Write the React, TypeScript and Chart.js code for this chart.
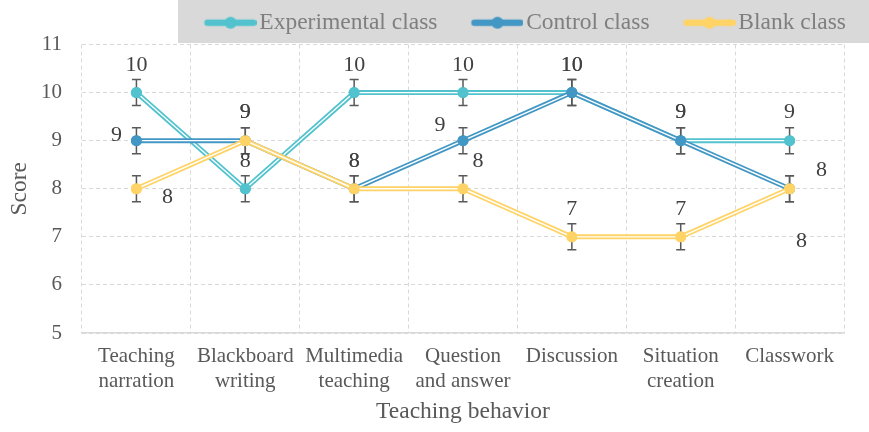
import React, { useEffect, useRef } from "react";
import { Chart, registerables } from "chart.js";

Chart.register(...registerables);

// ---------- data ----------
const categories: string[][] = [
  ["Teaching", "narration"],
  ["Blackboard", "writing"],
  ["Multimedia", "teaching"],
  ["Question", "and answer"],
  ["Discussion"],
  ["Situation", "creation"],
  ["Classwork"],
];
const seriesNames = ["Experimental class", "Control class", "Blank class"];
const experimental = [10, 8, 10, 10, 10, 9, 9];
const control = [9, 9, 8, 9, 10, 9, 8];
const blank = [8, 9, 8, 8, 7, 7, 8];
const experimentalErr = [0.27, 0.27, 0.27, 0.27, 0.27, 0.27, 0.27];
const controlErr = [0.27, 0.27, 0.27, 0.27, 0.27, 0.27, 0.27];
const blankErr = [0.27, 0.27, 0.27, 0.27, 0.27, 0.27, 0.27];
const yMin = 5;
const yMax = 11;
const yStep = 1;

// ---------- styling ----------
const FONT = "'Liberation Serif', 'Times New Roman', serif";
const colors = ["#52C3CE", "#4397C4", "#FFD366"];
// label offsets (px) relative to each point, per series
const labelOffsets: [number, number][][] = [
  [[0, -27], [0, -28], [0, -27], [0, -27], [0, -27], [0, -28], [0, -28]],
  [[-20, -5], [0, -28], [0, -28], [-23, -15], [0, -27], [0, -28], [32, -19]],
  [[31, 8], [0, -28], [0, -28], [15, -28], [0, -28], [0, -28], [12, 52]],
];
// drawing order: later series on top (lower order value = drawn last)
const drawOrder = [3, 2, 1];

function makeLegendMarker(color: string): HTMLCanvasElement {
  const c = document.createElement("canvas");
  c.width = 84;
  c.height = 14;
  const ctx = c.getContext("2d")!;
  ctx.strokeStyle = color;
  ctx.lineWidth = 6.5;
  ctx.lineCap = "round";
  ctx.beginPath();
  ctx.moveTo(35, 7);
  ctx.lineTo(81, 7);
  ctx.stroke();
  ctx.fillStyle = color;
  ctx.beginPath();
  ctx.arc(58, 7, 6, 0, Math.PI * 2);
  ctx.fill();
  return c;
}

export default function App() {
  const ref = useRef<HTMLCanvasElement | null>(null);

  useEffect(() => {
    if (!ref.current) return;
    const values = [experimental, control, blank];
    const errors = [experimentalErr, controlErr, blankErr];
    const markers = colors.map(makeLegendMarker);

    const legendBg = {
      id: "legendBg",
      beforeDraw(chart: any) {
        const ctx = chart.ctx;
        ctx.save();
        ctx.fillStyle = "#D9D9D9";
        ctx.fillRect(178, 0, chart.width - 178, 43);
        ctx.restore();
      },
    };

    const doubleLine = {
      id: "doubleLine",
      afterDatasetDraw(chart: any, args: any) {
        const meta = args.meta;
        const i = args.index;
        const ctx = chart.ctx;
        const y = chart.scales.y;
        ctx.save();
        // white inner line
        ctx.strokeStyle = "#ffffff";
        ctx.lineWidth = 1.4;
        ctx.lineJoin = "round";
        ctx.beginPath();
        meta.data.forEach((p: any, k: number) => {
          if (k === 0) ctx.moveTo(p.x, p.y);
          else ctx.lineTo(p.x, p.y);
        });
        ctx.stroke();
        // error bars
        ctx.strokeStyle = "#595959";
        ctx.lineWidth = 1.5;
        meta.data.forEach((p: any, k: number) => {
          const v = values[i][k];
          const e = errors[i][k];
          const top = y.getPixelForValue(v + e);
          const bot = y.getPixelForValue(v - e);
          ctx.beginPath();
          ctx.moveTo(p.x, top);
          ctx.lineTo(p.x, bot);
          ctx.moveTo(p.x - 4.5, top);
          ctx.lineTo(p.x + 4.5, top);
          ctx.moveTo(p.x - 4.5, bot);
          ctx.lineTo(p.x + 4.5, bot);
          ctx.stroke();
        });
        ctx.restore();
        // redraw points on top
        meta.data.forEach((p: any) => p.draw(ctx, chart.chartArea));
      },
      afterDatasetsDraw(chart: any) {
        const ctx = chart.ctx;
        ctx.save();
        ctx.font = `22px ${FONT}`;
        ctx.fillStyle = "#404040";
        ctx.textAlign = "center";
        ctx.textBaseline = "middle";
        for (let i = 0; i < 3; i++) {
          const meta = chart.getDatasetMeta(i);
          meta.data.forEach((p: any, k: number) => {
            const [dx, dy] = labelOffsets[i][k];
            ctx.fillText(String(values[i][k]), p.x + dx, p.y + dy);
          });
        }
        ctx.restore();
      },
    };

    const chart = new Chart(ref.current, {
      type: "line",
      data: {
        labels: categories,
        datasets: values.map((d, i) => ({
          label: seriesNames[i],
          data: d,
          order: drawOrder[i],
          borderColor: colors[i],
          backgroundColor: colors[i],
          borderWidth: 5,
          pointRadius: 5.5,
          pointBackgroundColor: colors[i],
          pointBorderWidth: 0,
          tension: 0,
          fill: false,
        })),
      },
      options: {
        animation: false,
        responsive: false,
        layout: { padding: { left: 0, right: 12, top: 0, bottom: 0 } },
        plugins: {
          tooltip: { enabled: false },
          legend: {
            position: "top",
            align: "end",
            labels: {
              usePointStyle: true,
              pointStyleWidth: 66,
              boxHeight: 14,
              padding: 11,
              color: "#7F7F7F",
              font: { family: FONT, size: 23.5 },
              generateLabels: (ch: any) => {
                const items = (Chart.defaults.plugins.legend.labels as any).generateLabels(ch);
                items.sort((a: any, b: any) => a.datasetIndex - b.datasetIndex);
                items.forEach((it: any) => {
                  it.pointStyle = markers[it.datasetIndex];
                });
                return items;
              },
            },
          },
        },
        scales: {
          x: {
            type: "category",
            offset: true,
            afterFit: (scale: any) => {
              scale.height = 99;
            },
            grid: {
              offset: true,
              color: "#D9D9D9",
              drawTicks: false,
              lineWidth: 1,
            },
            border: { display: true, color: "#D9D9D9", width: 1.5, dash: [4, 3] },
            ticks: {
              autoSkip: false,
              maxRotation: 0,
              minRotation: 0,
              padding: 11,
              color: "#595959",
              font: { family: FONT, size: 21 },
            },
            title: {
              display: true,
              text: "Teaching behavior",
              color: "#595959",
              font: { family: FONT, size: 23.5 },
              padding: { top: 3, bottom: 6 },
            },
          },
          y: {
            min: yMin,
            max: yMax,
            afterFit: (scale: any) => {
              scale.width = 82;
            },
            grid: { color: "#D9D9D9", drawTicks: false, lineWidth: 1 },
            border: { display: false, dash: [4, 3] },
            ticks: {
              stepSize: yStep,
              padding: 20,
              color: "#595959",
              font: { family: FONT, size: 21 },
            },
            title: {
              display: true,
              text: "Score",
              color: "#595959",
              font: { family: FONT, size: 23.5 },
              padding: { top: 6, bottom: 6 },
            },
          },
          y2: {
            position: "right",
            display: true,
            grid: { display: false, drawTicks: false },
            border: { display: false },
            ticks: { display: false },
            afterFit: (scale: any) => {
              scale.width = 13;
            },
          },
        },
      } as any,
      plugins: [legendBg, doubleLine],
    });
    return () => chart.destroy();
  }, []);

  return (
    <div style={{ position: "absolute", left: 0, top: 0, width: 869, height: 432 }}>
      <canvas ref={ref} width={869} height={432} style={{ width: 869, height: 432 }} />
    </div>
  );
}
